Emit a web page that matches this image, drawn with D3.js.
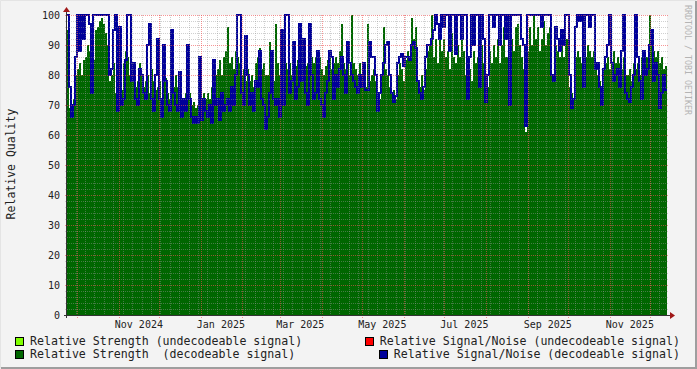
<!DOCTYPE html>
<html><head><meta charset="utf-8">
<script src="https://cdn.jsdelivr.net/npm/d3@7"></script>
<style>
html,body{margin:0;padding:0;background:#f3f3f3;}
svg{display:block;}
text{font-family:"DejaVu Sans Mono",monospace;}
</style></head><body>
<svg id="c" width="697" height="369"></svg>
<script>
// ---- data ----
const startTime = Date.UTC(2024, 8, 23, 13, 40);
const endTime = Date.UTC(2025, 11, 13, 15, 20);
const yTicks = [0,10,20,30,40,50,60,70,80,90,100];
const monthLabels = ["Nov 2024","Jan 2025","Mar 2025","May 2025","Jul 2025","Sep 2025","Nov 2025"];
const labelMonths = [[2024,10],[2025,0],[2025,2],[2025,4],[2025,6],[2025,8],[2025,10]];
const strengthDecodeable = [
 95,69,68,72,80, 82,84,80,85,86, 90,88,76,85,95, 96,98,99,97,94, 90,78,80,84,74,
 70,72,75,84,88, 86,80,82,78,76, 78,84,80,76,78, 80,74,82,78,75, 76,78,72,80,79,
 74,72,78,76,80, 76,78,72,70,74, 72,74,70,71,69, 70,72,68,74,72, 74,72,76,78,80,
 82,85,80,86,88, 96,84,86,82,88, 86,84,80,82,78, 82,78,80,76,84, 86,89,82,84,80,
 80,91,82,78,97, 84,80,82,86,84, 82,84,80,86,83, 85,82,84,80,83, 84,82,86,84,86,
 84,86,82,80,83, 85,87,82,84,86, 84,88,97,84,82, 86,80,100,84,82, 80,84,78,82,76,
 97,78,80,82,78, 70,72,80,96,82, 80,76,74,75,72, 80,84,82,78,85, 88,86,99,92,96,
 78,76,80,75,82, 88,90,100,86,92, 84,96,88,92,86, 88,82,94,86,84, 90,86,94,88,80,
 80,82,78,88,84, 86,80,90,84,74, 76,88,84,90,86, 92,84,90,96,86, 86,70,92,88,96,
 97,90,86,82,61, 88,96,90,100,92, 96,88,92,98,90, 94,96,80,78,90, 88,86,90,86,92,
 92,76,74,72,86, 88,86,84,78,86, 90,88,86,88,84, 80,78,70,82,84, 86,82,84,88,84,
 86,84,82,86,80, 80,82,78,84,82, 84,80,86,84,86, 86,100,90,88,86, 88,84,86,82,83
];
const snrDecodeable = [
 100,76,66,70,86, 100,88,100,92,100, 100,97,74,100,100, 100,100,100,100,100, 100,80,82,95,100,
 68,96,70,72,85, 100,100,78,84,72, 70,82,80,74,72, 90,97,72,68,80, 92,72,66,90,78,
 70,68,95,74,70, 68,81,66,72,68, 90,72,66,64,66, 64,86,65,72,68, 66,70,64,85,70,
 72,65,74,68,70, 72,68,76,70,80, 100,100,74,70,93, 80,70,74,68,78, 76,88,72,70,62,
 66,74,88,72,70, 72,66,95,70,100, 100,74,78,91,72, 76,97,78,92,74, 70,97,80,72,74,
 88,72,70,66,74, 78,88,86,72,80, 76,82,86,80,74, 91,84,80,78,76, 74,80,76,84,75,
 75,91,86,86,80, 68,74,80,84,90, 91,80,74,71,73, 84,86,87,83,86, 86,85,90,91,89,
 78,74,72,76,86, 90,90,92,95,100, 97,92,100,96,100, 100,88,100,100,87, 100,100,92,100,100,
 72,86,100,90,100, 100,76,100,92,71, 80,100,100,96,100, 100,90,100,100,92, 100,70,100,100,100,
 100,100,92,90,63, 100,100,100,100,100, 100,100,96,100,100, 100,100,80,78,96, 92,88,95,90,100,
 100,80,69,72,96, 100,98,100,76,100, 100,96,100,100,82, 84,76,70,82,86, 90,100,84,78,80,
 82,76,88,100,74, 72,71,76,80,100, 86,78,72,88,80, 82,90,95,78,84, 80,69,74,80,75
];
const legendItems = [
 {label:"Relative Strength (undecodeable signal)", color:"#80ff00", col:0, row:0},
 {label:"Relative Signal/Noise (undecodeable signal)", color:"#ff0000", col:1, row:0},
 {label:"Relative Strength  (decodeable signal)", color:"#006600", col:0, row:1},
 {label:"Relative Signal/Noise (decodeable signal)", color:"#000099", col:1, row:1}
];

// ---- drawing ----
const svg = d3.select("#c");
const W = 697, H = 369;
const L = 67, R = 667, T = 15, B = 315;
const x = d3.scaleUtc().domain([startTime, endTime]).range([L, R]);
const y = d3.scaleLinear().domain([0, 100]).range([B, T]);

// frame
svg.append("rect").attr("x",0).attr("y",0).attr("width",W).attr("height",H).attr("fill","#f3f3f3");
svg.append("path").attr("d",`M0.5,${H-0.5} V0.5 H${W-0.5}`).attr("stroke","#e4e4e4").attr("stroke-width",1).attr("fill","none");
svg.append("path").attr("d",`M1,${H-1} H${W-1} V1`).attr("stroke","#9e9e9e").attr("stroke-width",2).attr("fill","none");

// canvas
svg.append("rect").attr("x",L).attr("y",T).attr("width",R-L).attr("height",B-T).attr("fill","#ffffff");

const n = strengthDecodeable.length;
const step = (endTime - startTime) / n;
const pts = (arr) => { const p = arr.map((v,i)=>({t:startTime+i*step, v})); p.push({t:endTime, v:arr[arr.length-1]}); return p; };

const area = d3.area().x(d=>x(d.t)).y0(y(0)).y1(d=>y(d.v)).curve(d3.curveStepAfter);
svg.append("path").datum(pts(strengthDecodeable)).attr("d",area).attr("fill","#006600");

const line = d3.line().x(d=>x(d.t)).y(d=>y(d.v)).curve(d3.curveStepAfter);
svg.append("path").datum(pts(snrDecodeable)).attr("d",line).attr("fill","none")
  .attr("stroke","#000099").attr("stroke-width",2).attr("stroke-linejoin","miter").attr("stroke-linecap","butt");

// grid
const g = svg.append("g");
const minorY = d3.range(0, 101, 2).filter(v => v % 10 !== 0);
g.selectAll(".hm").data(minorY).enter().append("line")
 .attr("x1",L-2).attr("x2",R+2).attr("y1",d=>y(d)+0.5).attr("y2",d=>y(d)+0.5)
 .attr("stroke","rgba(150,150,150,0.45)").attr("stroke-dasharray","1,1");
const weeks = d3.utcMonday.range(new Date(startTime), new Date(endTime));
g.selectAll(".vm").data(weeks).enter().append("line")
 .attr("x1",d=>Math.round(x(d))+0.5).attr("x2",d=>Math.round(x(d))+0.5).attr("y1",T).attr("y2",B+2)
 .attr("stroke","rgba(150,150,150,0.45)").attr("stroke-dasharray","1,1");
g.selectAll(".hM").data(yTicks.filter(v=>v>0)).enter().append("line")
 .attr("x1",L-2).attr("x2",R+2).attr("y1",d=>y(d)+0.5).attr("y2",d=>y(d)+0.5)
 .attr("stroke","rgba(240,80,80,0.6)").attr("stroke-dasharray","1,1");
const months = d3.utcMonth.range(new Date(startTime), new Date(endTime));
g.selectAll(".vM").data(months).enter().append("line")
 .attr("x1",d=>Math.round(x(d))+0.5).attr("x2",d=>Math.round(x(d))+0.5).attr("y1",T).attr("y2",B+3)
 .attr("stroke","rgba(240,80,80,0.6)").attr("stroke-dasharray","1,1");

// axes
svg.append("line").attr("x1",L-3).attr("x2",R+3).attr("y1",B+0.5).attr("y2",B+0.5).attr("stroke","#333");
svg.append("line").attr("x1",L-0.5).attr("x2",L-0.5).attr("y1",B+3).attr("y2",T-4).attr("stroke","#333");
svg.append("path").attr("d",`M${R+3},${B-3} L${R+8},${B+0.5} L${R+3},${B+4} Z`).attr("fill","#a01818");
svg.append("path").attr("d",`M${L-4},${T-3} L${L-0.5},${T-8} L${L+3},${T-3} Z`).attr("fill","#a01818");

// y labels
svg.selectAll(".yl").data(yTicks).enter().append("text")
 .attr("x",60).attr("y",d=>y(d)+4).attr("text-anchor","end")
 .attr("font-size","10px").attr("fill","#222").text(d=>d);

// x labels
svg.selectAll(".xl").data(labelMonths).enter().append("text")
 .attr("x",d=>x(Date.UTC(d[0],d[1],16))).attr("y",328).attr("text-anchor","middle")
 .attr("font-size","10px").attr("fill","#222").text((d,i)=>monthLabels[i]);

// y title
svg.append("text").attr("transform","translate(15,164) rotate(-90)").attr("text-anchor","middle")
 .attr("font-size","11.5px").attr("fill","#222").text("Relative Quality");

// watermark
svg.append("text").attr("transform","translate(685,60) rotate(90)").attr("text-anchor","middle")
 .attr("font-size","8.3px").attr("fill","#b4b4b4").text("RRDTOOL / TOBI OETIKER");

// legend
const lg = svg.selectAll(".lg").data(legendItems).enter().append("g");
lg.append("rect")
 .attr("x",d=> d.col===0 ? 15.5 : (d.row===0 ? 365.5 : 379.5))
 .attr("y",d=> d.row===0 ? 337.5 : 350.5).attr("width",8).attr("height",8)
 .attr("fill",d=>d.color).attr("stroke","#000").attr("stroke-width",1);
lg.append("text")
 .attr("x",d=> d.col===0 ? 30 : 680)
 .attr("y",d=> d.row===0 ? 345 : 358)
 .attr("text-anchor",d=> d.col===0 ? "start" : "end")
 .attr("font-size","11.6px").attr("fill","#222").attr("xml:space","preserve")
 .style("white-space","pre").text(d=>d.label);
</script>
</body></html>
